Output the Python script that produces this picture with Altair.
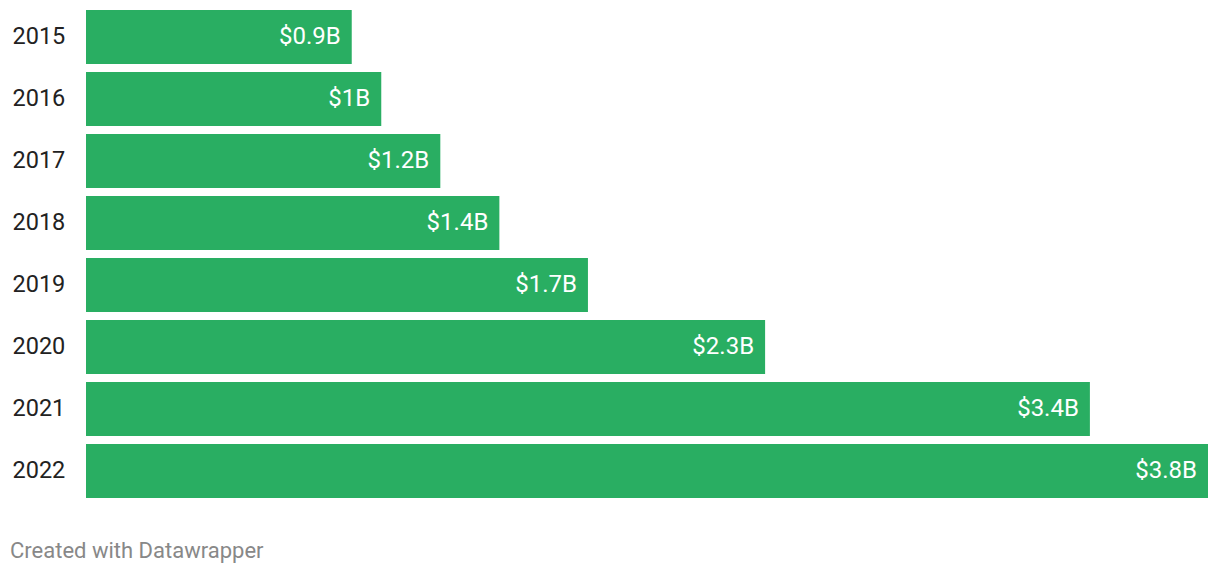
import altair as alt
import pandas as pd

years = ["2015", "2016", "2017", "2018", "2019", "2020", "2021", "2022"]
values = [0.9, 1.0, 1.2, 1.4, 1.7, 2.3, 3.4, 3.8]
labels = ["$0.9B", "$1B", "$1.2B", "$1.4B", "$1.7B", "$2.3B", "$3.4B", "$3.8B"]
footer = "Created with Datawrapper"

df = pd.DataFrame({"year": years, "value": values, "label": labels})

FONT = "Roboto"
GREEN = "#29ae62"

y_enc = alt.Y(
    "year:N",
    sort=years,
    scale=alt.Scale(paddingInner=0.13, paddingOuter=0),
    axis=alt.Axis(
        title=None, domain=False, ticks=False, labelPadding=74,
        labelAlign="left", labelFont=FONT, labelFontSize=23.5,
        labelColor="#222222", grid=False,
    ),
)
x_enc = alt.X("value:Q", scale=alt.Scale(domain=[0, 3.8], nice=False, zero=True), axis=None)

bars = alt.Chart(df).mark_bar(color=GREEN).encode(x=x_enc, y=y_enc)

texts = alt.Chart(df).mark_text(
    align="right", baseline="middle", dx=-11, color="white", font=FONT, fontSize=24
).encode(x=x_enc, y=y_enc, text="label:N")

foot = alt.Chart(pd.DataFrame({"t": [footer]})).mark_text(
    align="left", baseline="alphabetic", color="#888888", font=FONT, fontSize=22
).encode(x=alt.value(-76), y=alt.value(548), text="t:N")

chart = (
    alt.layer(bars, texts, foot)
    .properties(
        width=1122, height=488,
        autosize="none",
        padding={"left": 78, "top": 2, "right": 4, "bottom": 74},
    )
    .configure_view(stroke=None)
)

chart.save("out.html", embed_options={"renderer": "svg", "actions": False})
